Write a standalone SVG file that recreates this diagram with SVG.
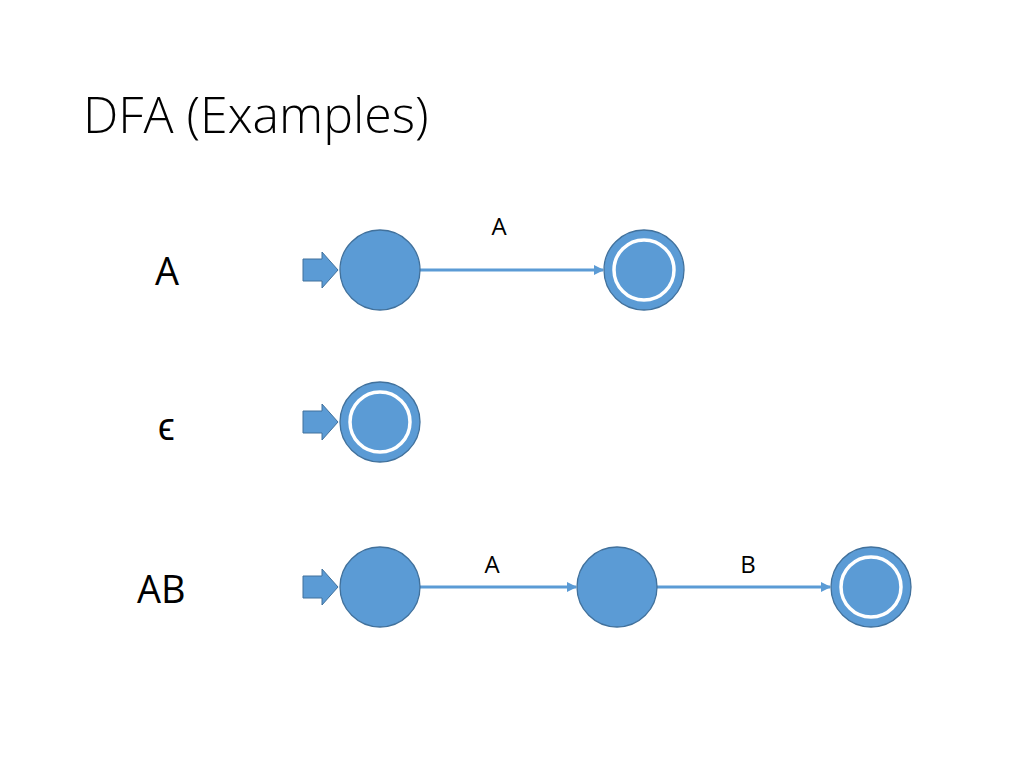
<svg xmlns="http://www.w3.org/2000/svg" width="1024" height="768" viewBox="0 0 1024 768">
<style>
.st{fill:#5b9bd5;stroke:#41719c;stroke-width:1.3}
.ring{fill:none;stroke:#fff;stroke-width:3.5}
.ed{stroke:#5b9bd5;stroke-width:3;fill:none;marker-end:url(#ah)}
.sa{fill:#5b9bd5;stroke:#41719c;stroke-width:1}
text{font-family:"Open Sans","Liberation Sans",sans-serif;fill:#000}
.lab{font-size:24px}
.big{font-size:38px}
</style>
<defs>
<marker id="ah" markerWidth="10" markerHeight="10" refX="9" refY="5" orient="auto" markerUnits="userSpaceOnUse">
<path d="M0,0 L10,5 L0,10 Z" fill="#5b9bd5"/>
</marker>
<path id="start" d="M0,-11 H19 V-18 L35,0 L19,18 V11 H0 Z"/>
</defs>
<rect width="1024" height="768" fill="#fff"/>
<text x="83" y="133" font-size="50" font-weight="300">DFA (Examples)</text>
<text class="big" x="155" y="285">A</text>
<text class="big" x="158" y="440">ϵ</text>
<text class="big" x="137" y="603">AB</text>
<g id="connectors">
<line class="ed" x1="420" y1="270" x2="603" y2="270"/>
<line class="ed" x1="420" y1="587" x2="576" y2="587"/>
<line class="ed" x1="657" y1="587" x2="830" y2="587"/>
<text class="lab" x="499" y="235" text-anchor="middle">A</text>
<text class="lab" x="492" y="573" text-anchor="middle">A</text>
<text class="lab" x="748" y="573" text-anchor="middle">B</text>
</g>
<g id="s1"><use href="#start" class="sa" x="303" y="270"/><circle class="st" cx="380" cy="270" r="40"/></g>
<g id="s2"><circle class="st" cx="644" cy="270" r="40"/><circle class="ring" cx="644" cy="270" r="30"/></g>
<g id="s3"><use href="#start" class="sa" x="303" y="422"/><circle class="st" cx="380" cy="422" r="40"/><circle class="ring" cx="380" cy="422" r="30"/></g>
<g id="s4"><use href="#start" class="sa" x="303" y="587"/><circle class="st" cx="380" cy="587" r="40"/></g>
<g id="s5"><circle class="st" cx="617" cy="587" r="40"/></g>
<g id="s6"><circle class="st" cx="871" cy="587" r="40"/><circle class="ring" cx="871" cy="587" r="30"/></g>
</svg>
